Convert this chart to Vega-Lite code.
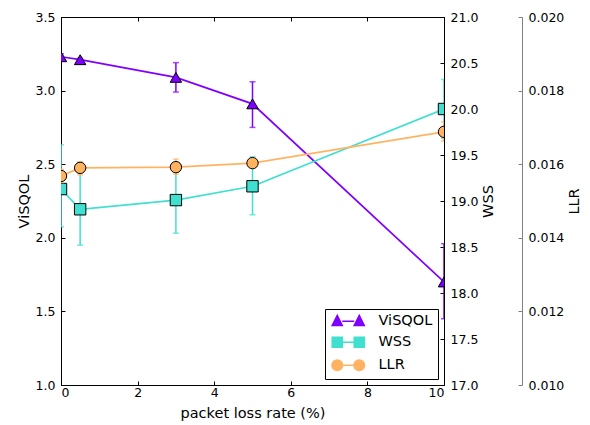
{
  "$schema": "https://vega.github.io/schema/vega-lite/v6.json",
  "width": 383,
  "height": 368,
  "autosize": "none",
  "padding": {"left": 61, "top": 17, "right": 146, "bottom": 40},
  "data": {"values": [
    {"series": "ViSQOL", "x": 0, "y": 3.23, "lo": 3.21, "hi": 3.25},
    {"series": "ViSQOL", "x": 0.5, "y": 3.21, "lo": 3.20, "hi": 3.22},
    {"series": "ViSQOL", "x": 3, "y": 3.09, "lo": 2.99, "hi": 3.19},
    {"series": "ViSQOL", "x": 5, "y": 2.91, "lo": 2.75, "hi": 3.06},
    {"series": "ViSQOL", "x": 10, "y": 1.70, "lo": 1.45, "hi": 1.96},
    {"series": "WSS", "x": 0, "y": 19.13, "lo": 18.72, "hi": 19.61},
    {"series": "WSS", "x": 0.5, "y": 18.91, "lo": 18.52, "hi": 19.42},
    {"series": "WSS", "x": 3, "y": 19.01, "lo": 18.65, "hi": 19.32},
    {"series": "WSS", "x": 5, "y": 19.16, "lo": 18.85, "hi": 19.48},
    {"series": "WSS", "x": 10, "y": 20.0, "lo": 19.68, "hi": 20.32},
    {"series": "LLR", "x": 0, "y": 0.01568, "lo": 0.01550, "hi": 0.01586},
    {"series": "LLR", "x": 0.5, "y": 0.0159, "lo": 0.01571, "hi": 0.01606},
    {"series": "LLR", "x": 3, "y": 0.01592, "lo": 0.01573, "hi": 0.01614},
    {"series": "LLR", "x": 5, "y": 0.01603, "lo": 0.01592, "hi": 0.01614},
    {"series": "LLR", "x": 10, "y": 0.01688, "lo": 0.01663, "hi": 0.01715}
  ]},
  "config": {
    "view": {"stroke": "black", "strokeWidth": 1},
    "axis": {
      "grid": false,
      "labelFont": "DejaVu Sans",
      "titleFont": "DejaVu Sans",
      "labelFontSize": 12.5,
      "titleFontSize": 14.5,
      "titleFontWeight": "normal",
      "domainColor": "black",
      "tickColor": "black",
      "labelColor": "black",
      "titleColor": "black",
      "tickSize": -4,
      "labelPadding": 10
    },
    "legend": {
      "labelFont": "DejaVu Sans",
      "labelFontSize": 14.5,
      "labelColor": "black",
      "symbolOpacity": 1
    }
  },
  "layer": [
    {
      "transform": [{"filter": "datum.series === 'ViSQOL'"}],
      "layer": [
        {
          "mark": {"type": "line", "strokeWidth": 1.7, "clip": true},
          "encoding": {
            "x": {"field": "x", "type": "quantitative", "scale": {"domain": [0, 10], "nice": false},
                  "axis": {"orient": "bottom", "title": "packet loss rate (%)", "values": [0, 2, 4, 6, 8, 10], "domain": false, "labelPadding": 5, "titlePadding": 8}},
            "y": {"field": "y", "type": "quantitative", "scale": {"domain": [1, 3.5], "nice": false, "zero": false},
                  "axis": {"orient": "left", "title": "ViSQOL", "values": [1, 1.5, 2, 2.5, 3, 3.5], "format": ".1f", "domain": false}},
            "color": {"field": "series", "type": "nominal", "scale": {"domain": ["ViSQOL", "WSS", "LLR"], "range": ["#8000ff", "#40e0d0", "#ffb360"]}}
          }
        },
        {
          "mark": {"type": "rule", "strokeWidth": 1.5, "clip": true},
          "encoding": {
            "x": {"field": "x", "type": "quantitative"},
            "y": {"field": "lo", "type": "quantitative"},
            "y2": {"field": "hi"},
            "color": {"field": "series", "type": "nominal"}
          }
        },
        {
          "mark": {"type": "tick", "orient": "horizontal", "size": 6, "thickness": 1.5, "clip": true},
          "encoding": {
            "x": {"field": "x", "type": "quantitative"},
            "y": {"field": "lo", "type": "quantitative"},
            "color": {"field": "series", "type": "nominal"}
          }
        },
        {
          "mark": {"type": "tick", "orient": "horizontal", "size": 6, "thickness": 1.5, "clip": true},
          "encoding": {
            "x": {"field": "x", "type": "quantitative"},
            "y": {"field": "hi", "type": "quantitative"},
            "color": {"field": "series", "type": "nominal"}
          }
        },
        {
          "mark": {"type": "point", "filled": true, "size": 130, "opacity": 1, "stroke": "black", "strokeWidth": 1, "clip": true},
          "encoding": {
            "x": {"field": "x", "type": "quantitative"},
            "y": {"field": "y", "type": "quantitative"},
            "color": {"field": "series", "type": "nominal"},
            "shape": {"value": "triangle-up"}
          }
        },
        {
          "transform": [{"filter": "false"}],
          "mark": {"type": "point", "filled": true, "opacity": 1, "strokeWidth": 1.6},
          "encoding": {
            "x": {"field": "x", "type": "quantitative"},
            "y": {"field": "y", "type": "quantitative"},
            "color": {"field": "series", "type": "nominal",
                      "legend": {"title": null, "orient": "bottom-right", "offset": 6, "strokeColor": "black", "fillColor": "white", "padding": 5, "rowPadding": 5, "symbolSize": 100, "symbolStrokeWidth": 1.6, "labelOffset": 34}},
            "stroke": {"field": "series", "type": "nominal", "scale": {"domain": ["ViSQOL", "WSS", "LLR"], "range": ["#8000ff", "#40e0d0", "#ffb360"]},
                      "legend": {"title": null, "orient": "bottom-right", "offset": 6, "strokeColor": "black", "fillColor": "white", "padding": 5, "rowPadding": 5, "symbolSize": 100, "symbolStrokeWidth": 1.6, "labelOffset": 34}},
            "shape": {"field": "series", "type": "nominal",
                      "scale": {"domain": ["ViSQOL", "WSS", "LLR"], "range": [
                        "M-1,0.85L1,0.85L0,-1.15Z M3.4,0.85L5.4,0.85L4.4,-1.15Z M1,0L3.4,0",
                        "M-1,-1L1,-1L1,1L-1,1Z M3.4,-1L5.4,-1L5.4,1L3.4,1Z M1,0L3.4,0",
                        "M1.05,0A1.05,1.05 0 1,1 -1.05,0A1.05,1.05 0 1,1 1.05,0Z M5.45,0A1.05,1.05 0 1,1 3.35,0A1.05,1.05 0 1,1 5.45,0Z M1.05,0L3.35,0"
                      ]},
                      "legend": {"title": null, "orient": "bottom-right", "offset": 6, "strokeColor": "black", "fillColor": "white", "padding": 5, "rowPadding": 5, "symbolSize": 100, "symbolStrokeWidth": 1.6, "labelOffset": 34}}
          }
        }
      ]
    },
    {
      "transform": [{"filter": "datum.series === 'WSS'"}],
      "layer": [
        {
          "mark": {"type": "line", "strokeWidth": 1.7, "clip": true},
          "encoding": {
            "x": {"field": "x", "type": "quantitative", "axis": null},
            "y": {"field": "y", "type": "quantitative", "scale": {"domain": [17, 21], "nice": false, "zero": false},
                  "axis": {"orient": "right", "title": "WSS", "titleAngle": 270, "titleBaseline": "top", "values": [17, 17.5, 18, 18.5, 19, 19.5, 20, 20.5, 21], "format": ".1f", "domain": false}},
            "color": {"field": "series", "type": "nominal"}
          }
        },
        {
          "mark": {"type": "rule", "strokeWidth": 1.5, "clip": true},
          "encoding": {
            "x": {"field": "x", "type": "quantitative", "axis": null},
            "y": {"field": "lo", "type": "quantitative"},
            "y2": {"field": "hi"},
            "color": {"field": "series", "type": "nominal"}
          }
        },
        {
          "mark": {"type": "tick", "orient": "horizontal", "size": 6, "thickness": 1.5, "clip": true},
          "encoding": {
            "x": {"field": "x", "type": "quantitative", "axis": null},
            "y": {"field": "lo", "type": "quantitative"},
            "color": {"field": "series", "type": "nominal"}
          }
        },
        {
          "mark": {"type": "tick", "orient": "horizontal", "size": 6, "thickness": 1.5, "clip": true},
          "encoding": {
            "x": {"field": "x", "type": "quantitative", "axis": null},
            "y": {"field": "hi", "type": "quantitative"},
            "color": {"field": "series", "type": "nominal"}
          }
        },
        {
          "mark": {"type": "point", "filled": true, "size": 130, "opacity": 1, "stroke": "black", "strokeWidth": 1, "clip": true},
          "encoding": {
            "x": {"field": "x", "type": "quantitative", "axis": null},
            "y": {"field": "y", "type": "quantitative"},
            "color": {"field": "series", "type": "nominal"},
            "shape": {"value": "square"}
          }
        }
      ]
    },
    {
      "transform": [{"filter": "datum.series === 'LLR'"}],
      "layer": [
        {
          "mark": {"type": "line", "strokeWidth": 1.7, "clip": true},
          "encoding": {
            "x": {"field": "x", "type": "quantitative", "axis": null},
            "y": {"field": "y", "type": "quantitative", "scale": {"domain": [0.01, 0.02], "nice": false, "zero": false},
                  "axis": {"orient": "right", "offset": 78, "title": "LLR", "titleAngle": 270, "titleBaseline": "top", "values": [0.01, 0.012, 0.014, 0.016, 0.018, 0.02], "format": ".3f", "domainColor": "#808080", "tickColor": "#808080", "domain": true}},
            "color": {"field": "series", "type": "nominal"}
          }
        },
        {
          "mark": {"type": "rule", "strokeWidth": 1.5, "clip": true},
          "encoding": {
            "x": {"field": "x", "type": "quantitative", "axis": null},
            "y": {"field": "lo", "type": "quantitative"},
            "y2": {"field": "hi"},
            "color": {"field": "series", "type": "nominal"}
          }
        },
        {
          "mark": {"type": "tick", "orient": "horizontal", "size": 6, "thickness": 1.5, "clip": true},
          "encoding": {
            "x": {"field": "x", "type": "quantitative", "axis": null},
            "y": {"field": "lo", "type": "quantitative"},
            "color": {"field": "series", "type": "nominal"}
          }
        },
        {
          "mark": {"type": "tick", "orient": "horizontal", "size": 6, "thickness": 1.5, "clip": true},
          "encoding": {
            "x": {"field": "x", "type": "quantitative", "axis": null},
            "y": {"field": "hi", "type": "quantitative"},
            "color": {"field": "series", "type": "nominal"}
          }
        },
        {
          "mark": {"type": "point", "filled": true, "size": 130, "opacity": 1, "stroke": "black", "strokeWidth": 1, "clip": true},
          "encoding": {
            "x": {"field": "x", "type": "quantitative", "axis": null},
            "y": {"field": "y", "type": "quantitative"},
            "color": {"field": "series", "type": "nominal"},
            "shape": {"value": "circle"}
          }
        }
      ]
    },
    {
      "transform": [{"filter": "datum.series === 'ViSQOL'"}],
      "mark": {"type": "point", "opacity": 0},
      "encoding": {
        "x": {"field": "x", "type": "quantitative", "axis": {"orient": "top", "labels": false, "title": null, "values": [0, 2, 4, 6, 8, 10], "domain": false}},
        "y": {"field": "y", "type": "quantitative", "scale": {"domain": [1, 3.5], "nice": false, "zero": false}, "axis": null}
      }
    }
  ],
  "resolve": {"scale": {"y": "independent"}, "axis": {"x": "independent"}}
}
